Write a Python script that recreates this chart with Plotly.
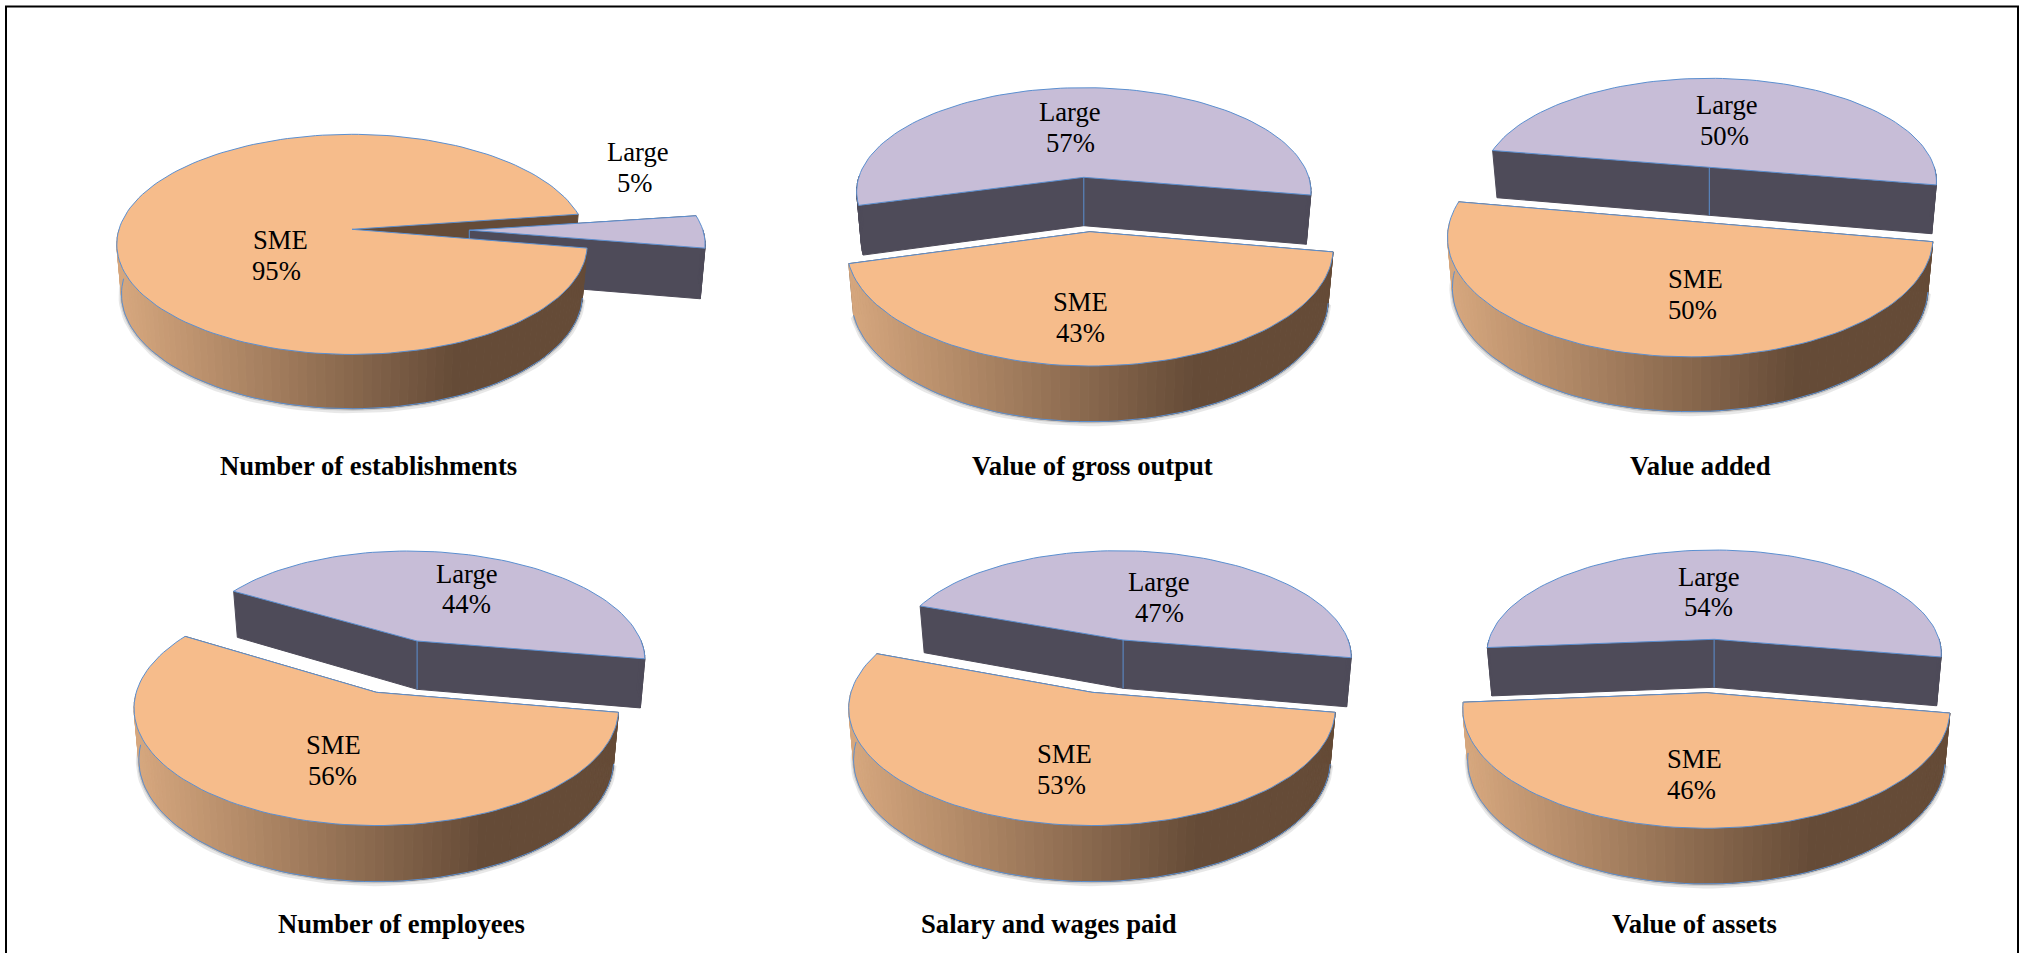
import math
import plotly.graph_objects as go

# Share of SME and large establishments for each indicator (percent)
indicators = ["Number of establishments", "Value of gross output", "Value added",
              "Number of employees", "Salary and wages paid", "Value of assets"]
sme_share = [95, 43, 50, 56, 53, 46]
large_share = [5, 57, 50, 44, 47, 54]
slice_names = ["SME", "Large"]

# Placement of each exploded slice on the page:
# centre x, centre y, half width, half height, thickness, horizontal shear
sme_layout = [(352.0, 229.3, 233.0, 108.0, 49.0, 0.0), (1089.9, 231.7, 241.0, 115.9, 50.4, 0.0),
              (1690.2, 221.3, 240.4, 117.0, 49.6, 0.0), (376.3, 692.3, 240.0, 115.0, 50.7, 0.0),
              (1092.0, 692.3, 241.0, 115.0, 50.7, 0.0), (1706.4, 692.7, 241.3, 117.0, 50.4, 0.0)]
large_layout = [(469.3, 230.2, 233.6, 103.0, 49.8, 0.0), (1083.8, 177.3, 225.0, 101.9, 48.4, 0.0),
                (1709.3, 167.3, 225.0, 101.2, 48.0, 0.0), (417.1, 641.0, 224.0, 102.3, 48.3, -0.10),
                (1123.1, 640.0, 225.0, 101.5, 48.3, -0.06), (1714.1, 639.3, 225.0, 101.5, 48.0, 0.0)]

# Label anchors: (name line x, y, percent line x, y)
sme_labels = [(280, 240, 276, 271), (1080, 302, 1080, 333), (1695, 279, 1692, 310),
              (333, 745, 332, 776), (1064, 754, 1061, 785), (1694, 759, 1691, 790)]
large_labels = [(638, 152, 635, 183), (1070, 112, 1070, 143), (1727, 105, 1724, 136),
                (467, 574, 466, 604), (1159, 582, 1159, 613), (1709, 577, 1708, 607)]
title_positions = [(368, 466), (1092, 466), (1700, 466), (401, 924), (1049, 924), (1694, 924)]

FIRST_SLICE_DEG = 99.8   # clockwise from 12 o'clock
PERSPECTIVE = 0.137
BOTTOM_SCALE = 0.98
SME_TOP = "#F6BC8B"
LARGE_TOP = "#C7BDD7"
LARGE_SIDE = "#4E4B59"
SME_DARK = (0x65, 0x4B, 0x37)
SME_LIGHT = (0xD6, 0xA7, 0x7E)
EDGE = "#5B8FD0"
FONT = "Liberation Serif"


def top_point(g, deg):
    cx, cy, a, b, h, shear = g
    t = math.radians(deg)
    w = 1 + PERSPECTIVE * math.sin(t)
    rise = b * math.sin(t) / w
    return cx + a * math.cos(t) / w + shear * rise, cy - rise


def bottom_point(g, deg):
    cx, cy, a, b, h, shear = g
    t = math.radians(deg)
    w = 1 + PERSPECTIVE * math.sin(t)
    rise = BOTTOM_SCALE * b * math.sin(t) / w
    return cx + BOTTOM_SCALE * a * math.cos(t) / w + shear * rise, cy - rise + h / w


def sweep(start, end, step=2.0):
    n = max(2, int(abs(end - start) / step) + 1)
    return [start + (end - start) * i / (n - 1) for i in range(n)]


def polygon(fig, pts, fill, line=None, width=1.0):
    xs = [p[0] for p in pts] + [pts[0][0]]
    ys = [p[1] for p in pts] + [pts[0][1]]
    fig.add_trace(go.Scatter(x=xs, y=ys, mode="lines", fill="toself", fillcolor=fill,
                             line=dict(color=line or fill, width=width),
                             hoverinfo="skip", showlegend=False))


def polyline(fig, pts, color, width=1.0):
    fig.add_trace(go.Scatter(x=[p[0] for p in pts], y=[p[1] for p in pts], mode="lines",
                             line=dict(color=color, width=width),
                             hoverinfo="skip", showlegend=False))


def radial_face(g, deg):
    cx, cy, h = g[0], g[1], g[4]
    return [(cx, cy), top_point(g, deg), bottom_point(g, deg), (cx, cy + h)]


def top_face(g, start, end):
    cx, cy = g[0], g[1]
    return [(cx, cy)] + [top_point(g, d) for d in sweep(start, end)]


def front_strips(start, end):
    """Pairs of neighbouring rim angles whose wall faces the viewer."""
    angles = sweep(start, end)
    return [(p, q) for p, q in zip(angles, angles[1:])
            if math.sin(math.radians((p + q) / 2)) < 0]


def sme_side_color(g, x):
    frac = (x - (g[0] - g[2])) / (2 * g[2])
    u = min(1.0, max(0.0, frac / 0.72))
    r, gr, bl = [round(l + (d - l) * u) for l, d in zip(SME_LIGHT, SME_DARK)]
    return f"rgb({r},{gr},{bl})"


fig = go.Figure()
annotations = []


def add_text(x, y, text, bold=False):
    annotations.append(dict(x=x, y=y, xref="x", yref="y", text=f"<b>{text}</b>" if bold else text,
                            showarrow=False, xanchor="center", yanchor="middle",
                            font=dict(family=FONT, size=26.67, color="#000000")))


for i, name in enumerate(indicators):
    sme, large = sme_layout[i], large_layout[i]
    start = 90 - FIRST_SLICE_DEG
    split = start - 3.6 * sme_share[i]
    finish = split - 3.6 * large_share[i]

    # Cut faces of the SME slice sit behind everything else in the pie
    polygon(fig, radial_face(sme, split), "#654B37")
    polygon(fig, radial_face(sme, start), "#654B37")

    # Large slice: walls, then its top
    polygon(fig, radial_face(large, split), LARGE_SIDE)
    polygon(fig, radial_face(large, finish), LARGE_SIDE)
    for p, q in front_strips(split, finish):
        polygon(fig, [top_point(large, p), top_point(large, q),
                      bottom_point(large, q), bottom_point(large, p)], LARGE_SIDE)
    polyline(fig, [(large[0], large[1]), (large[0], large[1] + large[4])], EDGE, 1)
    polygon(fig, top_face(large, split, finish), LARGE_TOP, EDGE, 1)

    # Soft shadow under the SME rim
    rim = [q for pair in front_strips(start, split) for q in pair]
    rim_low = [bottom_point(sme, d) for d in rim]
    polyline(fig, [(x, y + 1.5) for x, y in rim_low], "rgba(90,90,90,0.14)", 6)
    polyline(fig, [(x, y + 0.5) for x, y in rim_low], "rgba(90,90,90,0.22)", 3)

    # SME outer wall, shaded left to right
    for p, q in front_strips(start, split):
        a0, a1 = top_point(sme, p), top_point(sme, q)
        polygon(fig, [a0, a1, bottom_point(sme, q), bottom_point(sme, p)],
                sme_side_color(sme, (a0[0] + a1[0]) / 2))
    polyline(fig, rim_low, EDGE, 1)

    # SME top
    polygon(fig, top_face(sme, start, split), SME_TOP, EDGE, 1)

    # Labels and title
    sx0, sy0, sx1, sy1 = sme_labels[i]
    lx0, ly0, lx1, ly1 = large_labels[i]
    add_text(sx0, sy0, slice_names[0])
    add_text(sx1, sy1, f"{sme_share[i]}%")
    add_text(lx0, ly0, slice_names[1])
    add_text(lx1, ly1, f"{large_share[i]}%")
    add_text(title_positions[i][0], title_positions[i][1], name, bold=True)

fig.update_layout(
    width=2024, height=953, margin=dict(l=0, r=0, t=0, b=0),
    paper_bgcolor="#FFFFFF", plot_bgcolor="#FFFFFF", showlegend=False,
    xaxis=dict(range=[0, 2024], visible=False, fixedrange=True),
    yaxis=dict(range=[953, 0], visible=False, fixedrange=True),
    annotations=annotations,
    shapes=[dict(type="rect", xref="x", yref="y", x0=6, y0=6.5, x1=2018, y1=965,
                 line=dict(color="#000000", width=2), fillcolor="rgba(0,0,0,0)")],
)

fig.write_html("out.html", config={"displayModeBar": False})
